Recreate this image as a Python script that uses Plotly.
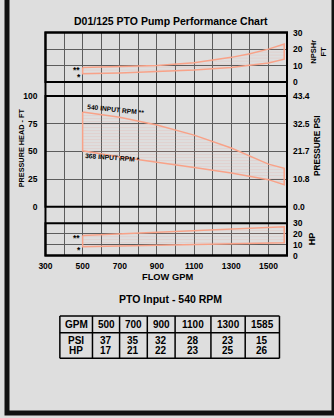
import plotly.graph_objects as go

W, H = 334, 418

# ---- data -------------------------------------------------------------
# NPSHr (ft) – upper curve is 540 input rpm (**), lower is 368 input rpm (*)
npsh_gpm = [500, 700, 900, 1100, 1300, 1400, 1500, 1585]
npsh_540 = [8.9, 9.3, 10.1, 11.8, 15.0, 17.2, 20.0, 23.1]
npsh_368 = [5.1, 5.5, 6.3, 7.3, 8.9, 10.1, 11.6, 13.9]

# pressure head (ft)
head_gpm = [500, 700, 900, 1100, 1300, 1500, 1585]
head_540 = [85.5, 80.9, 73.9, 64.7, 53.1, 38.5, 34.7]
head_368 = [50.5, 45.0, 40.0, 35.5, 30.5, 24.5, 20.0]

# horsepower
hp_gpm = [500, 1585]
hp_540 = [18.6, 26.6]
hp_368 = [8.2, 11.8]

# axis ticks
x_ticks = [300, 500, 700, 900, 1100, 1300, 1500]
head_ticks = [0, 25, 50, 75, 100]
psi_labels = ["0.0", "10.8", "21.7", "32.5", "43.4"]

# table (PTO input 540 rpm)
tbl_gpm = ["500", "700", "900", "1100", "1300", "1585"]
tbl_psi = ["37", "35", "32", "28", "23", "15"]
tbl_hp = ["17", "21", "22", "23", "25", "26"]

# ---- styling ----------------------------------------------------------
BG = "#dedede"
GRID = "#5c5c5c"
CURVE = "#f8a288"
FONT = "Liberation Sans"


def fx(px):
    return px / W


def fy(px):
    return 1 - px / H


x_dom = [fx(39.3), fx(286)]
bg_dom = [fy(256.7), fy(28.3)]
npsh_dom = [fy(79), fy(28.3)]
head_dom = [fy(206.7), fy(93.3)]
hp_dom = [fy(256.7), fy(223.5)]


def band(xs, upper, lower, yaxis):
    """closed outline between two curves, shaded with fine horizontal hatch"""
    px = list(xs) + list(xs)[::-1] + [xs[0]]
    py = list(upper) + list(lower)[::-1] + [upper[0]]
    return go.Scatter(
        x=px, y=py, xaxis="x", yaxis=yaxis, mode="lines",
        line=dict(color=CURVE, width=1.5),
        fill="toself", fillcolor="rgba(240,170,150,0.18)",
        fillpattern=dict(shape="-", fgcolor="rgba(235,150,130,0.45)",
                         bgcolor="rgba(0,0,0,0)", size=3, solidity=0.25),
        hoverinfo="skip", showlegend=False,
    )


fig = go.Figure()
# empty carriers so the full-height grid subplot and the PSI scale exist
fig.add_trace(go.Scatter(x=[None], y=[None], xaxis="x", yaxis="y",
                         showlegend=False, hoverinfo="skip"))
fig.add_trace(go.Scatter(x=[None], y=[None], xaxis="x", yaxis="y5",
                         showlegend=False, hoverinfo="skip"))
fig.add_trace(band(npsh_gpm, npsh_540, npsh_368, "y3"))
fig.add_trace(band(head_gpm, head_540, head_368, "y2"))
fig.add_trace(band(hp_gpm, hp_540, hp_368, "y4"))

tick_font = dict(family=FONT, size=8.5, color="black", weight="bold")
common_y = dict(anchor="x", showline=False, zeroline=False, ticks="",
                showgrid=True, gridcolor=GRID, gridwidth=1,
                tickfont=tick_font, ticklabelstandoff=5, fixedrange=True)

fig.update_layout(
    width=W, height=H, margin=dict(l=0, r=0, t=0, b=0),
    paper_bgcolor=BG, plot_bgcolor=BG,
    font=dict(family=FONT, color="black"),
    xaxis=dict(domain=x_dom, range=[300, 1600], anchor="y",
               tickvals=x_ticks, ticks="", showline=False, zeroline=False,
               showgrid=True, gridcolor=GRID, gridwidth=1,
               minor=dict(tick0=300, dtick=100, showgrid=True,
                          gridcolor=GRID, gridwidth=1),
               tickfont=tick_font, ticklabelstandoff=4),
    yaxis=dict(domain=bg_dom, range=[0, 1], anchor="x", showgrid=False,
               showticklabels=False, zeroline=False, ticks=""),
    yaxis2=dict(domain=head_dom, range=[0, 100], tickvals=head_ticks,
                side="left", **{**common_y, "ticklabelstandoff": 7}),
    yaxis3=dict(domain=npsh_dom, range=[0, 30], tickvals=[0, 10, 20, 30],
                side="right", **common_y),
    yaxis4=dict(domain=hp_dom, range=[0, 30], tickvals=[0, 10, 20, 30],
                side="right", **common_y),
    yaxis5=dict(overlaying="y2", anchor="x", side="right", range=[0, 100],
                tickvals=head_ticks, ticktext=psi_labels, showgrid=False,
                zeroline=False, ticks="", tickfont=tick_font,
                ticklabelstandoff=5),
)

# panel frames
shapes = []
for yref in ["y", "y2", "y3", "y4"]:
    shapes.append(dict(type="rect", xref="x domain", yref=f"{yref} domain",
                       x0=0, x1=1, y0=0, y1=1,
                       line=dict(color="black", width=2)))
# outer picture frame (left, right, bottom)
shapes.append(dict(type="rect", xref="paper", yref="paper",
                   x0=0, x1=1, y0=0, y1=1.05,
                   line=dict(color="#111111", width=5)))


def note(text, px, py, size, angle=0, xanchor="center"):
    fig.add_annotation(text=text, x=fx(px), y=fy(py), xref="paper", yref="paper",
                       showarrow=False, textangle=angle, xanchor=xanchor,
                       yanchor="middle",
                       font=dict(family=FONT, size=size, color="black",
                                 weight="bold"))


# ---- table grid drawn as lines, values as text --------------------------
col_edges = [54, 87.3, 115, 143.3, 171.7, 208.3, 243.3, 278.3]
row_edges = [318.7, 335.7, 362]
tbl_line = dict(color="black", width=1.5)
for cx in col_edges:
    shapes.append(dict(type="line", xref="paper", yref="paper",
                       x0=fx(cx), x1=fx(cx), y0=fy(row_edges[0]),
                       y1=fy(row_edges[-1]), line=tbl_line))
for ry in row_edges:
    shapes.append(dict(type="line", xref="paper", yref="paper",
                       x0=fx(col_edges[0]), x1=fx(col_edges[-1]),
                       y0=fy(ry), y1=fy(ry), line=tbl_line))
fig.update_layout(shapes=shapes)

header = ["GPM"] + tbl_gpm
row_psi = ["PSI"] + tbl_psi
row_hp = ["HP"] + tbl_hp
for i in range(len(header)):
    cx = (col_edges[i] + col_edges[i + 1]) / 2
    note(header[i], cx, 327.5, 10)
    note(row_psi[i], cx, 343.5, 10)
    note(row_hp[i], cx, 354.3, 10)

note("D01/125 PTO Pump Performance Chart", 167.5, 16, 10.5)
note("PRESSURE HEAD - FT", 15.7, 146.5, 7.3, -90)
note("PRESSURE PSI", 316.5, 143.5, 8.2, -90)
note("NPSHr<br>FT", 318.5, 48, 7.5, -90)
note("HP", 311.5, 239, 9, -90)
note("FLOW GPM", 164, 279, 9.3)
note("PTO Input - 540 RPM", 167.5, 301, 10.5)
note("**", 71, 66.5, 8.5)
note("*", 73.5, 73.5, 8.5)
note("**", 71, 238.5, 8.5)
note("*", 73.5, 250.5, 8.5)
note("540 INPUT RPM **", 111, 107.5, 6.7, 6)
note("368 INPUT RPM *", 108, 156.5, 6.7, 4)

fig.write_html("out.html")
